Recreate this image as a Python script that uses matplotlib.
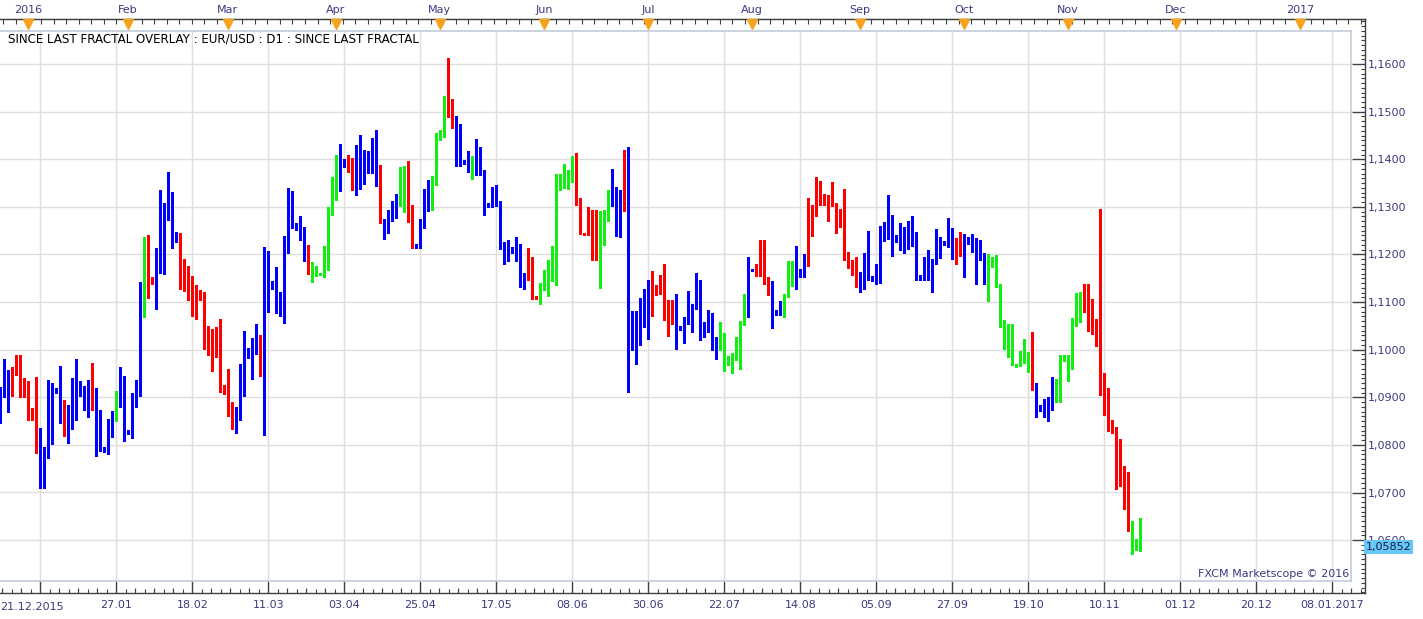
import numpy as np
import matplotlib
matplotlib.use('Agg')
import matplotlib.pyplot as plt

plt.rcParams['font.family'] = ['DejaVu Sans']

# EUR/USD D1, one bar per trading day (Sun-Fri), 22.12.2015 .. 18.11.2016
opens = [
    1.0849, 1.0912, 1.0955, 1.0907, 1.0949, 1.0961, 1.0916, 1.0929, 1.0861, 1.0872,
    1.0826, 1.0746, 1.0776, 1.0928, 1.0916, 1.0913, 1.0859, 1.0855, 1.0876, 1.0859,
    1.0903, 1.0919, 1.0887, 1.0905, 1.0881, 1.0871, 1.0791, 1.0788, 1.0846, 1.0866,
    1.0890, 1.0938, 1.0825, 1.0827, 1.0884, 1.0916, 1.1100, 1.1205, 1.1150, 1.1140,
    1.1188, 1.1291, 1.1285, 1.1320, 1.1247, 1.1232, 1.1150, 1.1140, 1.1127, 1.1103,
    1.1125, 1.1108, 1.1026, 1.1016, 1.1008, 1.1016, 1.0923, 1.0909, 1.0871, 1.0863,
    1.0865, 1.0954, 1.1001, 1.0985, 1.1012, 1.1007, 1.0990, 1.1175, 1.1144, 1.1135,
    1.1094, 1.1107, 1.1220, 1.1316, 1.1253, 1.1255, 1.1238, 1.1215, 1.1177, 1.1170,
    1.1157, 1.1157, 1.1190, 1.1284, 1.1334, 1.1374, 1.1388, 1.1398, 1.1385, 1.1377,
    1.1396, 1.1374, 1.1390, 1.1413, 1.1402, 1.1382, 1.1272, 1.1262, 1.1272, 1.1299,
    1.1308, 1.1356, 1.1293, 1.1285, 1.1214, 1.1214, 1.1262, 1.1293, 1.1317, 1.1346,
    1.1442, 1.1455, 1.1528, 1.1495, 1.1484, 1.1402, 1.1398, 1.1392, 1.1381, 1.1367,
    1.1425, 1.1373, 1.1300, 1.1307, 1.1318, 1.1311, 1.1213, 1.1199, 1.1215, 1.1203,
    1.1217, 1.1135, 1.1150, 1.1192, 1.1107, 1.1108, 1.1135, 1.1127, 1.1186, 1.1146,
    1.1361, 1.1348, 1.1349, 1.1353, 1.1388, 1.1313, 1.1243, 1.1243, 1.1289, 1.1201,
    1.1259, 1.1220, 1.1271, 1.1332, 1.1312, 1.1238, 1.1292, 1.1384, 1.1081, 1.1008,
    1.1021, 1.1061, 1.1121, 1.1105, 1.1135, 1.1121, 1.1153, 1.1073, 1.1100, 1.1060,
    1.1045, 1.1044, 1.1054, 1.1059, 1.1086, 1.1115, 1.1027, 1.1046, 1.1075, 1.1017,
    1.1010, 1.1024, 1.0972, 1.0968, 1.0991, 1.0983, 1.1054, 1.1070, 1.1166, 1.1169,
    1.1157, 1.1220, 1.1148, 1.1125, 1.1082, 1.1073, 1.1083, 1.1112, 1.1174, 1.1133,
    1.1154, 1.1166, 1.1178, 1.1275, 1.1281, 1.1352, 1.1304, 1.1318, 1.1302, 1.1304,
    1.1259, 1.1278, 1.1192, 1.1173, 1.1186, 1.1140, 1.1153, 1.1194, 1.1148, 1.1154,
    1.1144, 1.1252, 1.1237, 1.1255, 1.1227, 1.1234, 1.1231, 1.1215, 1.1247, 1.1240,
    1.1147, 1.1148, 1.1171, 1.1147, 1.1182, 1.1206, 1.1221, 1.1223, 1.1251, 1.1206,
    1.1214, 1.1218, 1.1232, 1.1226, 1.1207, 1.1199, 1.1201, 1.1145, 1.1194, 1.1177,
    1.1135, 1.1051, 1.1002, 1.1054, 1.0970, 1.0966, 1.0996, 1.0978, 1.0972, 1.0928,
    1.0880, 1.0881, 1.0878, 1.0884, 1.0907, 1.0890, 1.0978, 1.0988, 1.0977, 1.1052,
    1.1094, 1.1100, 1.1138, 1.1056, 1.1039, 1.1022, 1.0907, 1.0888, 1.0852, 1.0829,
    1.0734, 1.0718, 1.0688, 1.0623, 1.0581, 1.0625,
]

highs = [
    1.0922, 1.0980, 1.0957, 1.0963, 1.0989, 1.0989, 1.0940, 1.0935, 1.0877, 1.0942,
    1.0835, 1.0796, 1.0936, 1.0930, 1.0919, 1.0965, 1.0895, 1.0884, 1.0940, 1.0980,
    1.0935, 1.0923, 1.0937, 1.0972, 1.0919, 1.0873, 1.0796, 1.0855, 1.0872, 1.0913,
    1.0963, 1.0945, 1.0831, 1.0909, 1.0937, 1.1142, 1.1236, 1.1240, 1.1152, 1.1213,
    1.1335, 1.1308, 1.1373, 1.1331, 1.1248, 1.1246, 1.1190, 1.1175, 1.1154, 1.1135,
    1.1126, 1.1121, 1.1049, 1.1043, 1.1047, 1.1064, 1.0925, 1.0959, 1.0891, 1.0879,
    1.0970, 1.1039, 1.1003, 1.1024, 1.1054, 1.1031, 1.1215, 1.1207, 1.1145, 1.1174,
    1.1122, 1.1238, 1.1339, 1.1333, 1.1267, 1.1280, 1.1257, 1.1220, 1.1184, 1.1175,
    1.1161, 1.1217, 1.1300, 1.1363, 1.1409, 1.1433, 1.1400, 1.1409, 1.1402, 1.1430,
    1.1450, 1.1419, 1.1418, 1.1444, 1.1461, 1.1387, 1.1274, 1.1293, 1.1313, 1.1328,
    1.1384, 1.1385, 1.1396, 1.1305, 1.1222, 1.1274, 1.1337, 1.1357, 1.1365, 1.1455,
    1.1462, 1.1532, 1.1613, 1.1526, 1.1490, 1.1474, 1.1399, 1.1417, 1.1406, 1.1442,
    1.1426, 1.1377, 1.1309, 1.1342, 1.1345, 1.1312, 1.1227, 1.1231, 1.1216, 1.1237,
    1.1223, 1.1162, 1.1213, 1.1195, 1.1112, 1.1141, 1.1168, 1.1189, 1.1217, 1.1370,
    1.1370, 1.1390, 1.1377, 1.1406, 1.1413, 1.1318, 1.1246, 1.1300, 1.1293, 1.1293,
    1.1292, 1.1293, 1.1336, 1.1379, 1.1342, 1.1335, 1.1419, 1.1426, 1.1082, 1.1081,
    1.1109, 1.1128, 1.1147, 1.1165, 1.1136, 1.1157, 1.1181, 1.1104, 1.1104, 1.1117,
    1.1049, 1.1069, 1.1123, 1.1097, 1.1161, 1.1146, 1.1058, 1.1083, 1.1077, 1.1027,
    1.1058, 1.1035, 1.0986, 1.0994, 1.1027, 1.1060, 1.1117, 1.1195, 1.1170, 1.1181,
    1.1231, 1.1230, 1.1153, 1.1145, 1.1084, 1.1103, 1.1118, 1.1187, 1.1187, 1.1217,
    1.1170, 1.1201, 1.1319, 1.1303, 1.1362, 1.1354, 1.1328, 1.1325, 1.1352, 1.1308,
    1.1295, 1.1337, 1.1205, 1.1189, 1.1195, 1.1163, 1.1203, 1.1249, 1.1154, 1.1180,
    1.1260, 1.1268, 1.1325, 1.1282, 1.1240, 1.1266, 1.1257, 1.1270, 1.1280, 1.1248,
    1.1157, 1.1194, 1.1209, 1.1191, 1.1253, 1.1236, 1.1229, 1.1276, 1.1255, 1.1234,
    1.1247, 1.1244, 1.1236, 1.1244, 1.1234, 1.1230, 1.1203, 1.1202, 1.1195, 1.1198,
    1.1137, 1.1063, 1.1054, 1.1055, 1.0971, 1.0997, 1.1022, 1.0995, 1.1037, 1.0929,
    1.0883, 1.0896, 1.0900, 1.0942, 1.0938, 1.0989, 1.0988, 1.0989, 1.1067, 1.1119,
    1.1122, 1.1138, 1.1139, 1.1107, 1.1065, 1.1295, 1.0951, 1.0919, 1.0853, 1.0837,
    1.0813, 1.0756, 1.0743, 1.0640, 1.0602, 1.0646,
]

lows = [
    1.0845, 1.0901, 1.0870, 1.0902, 1.0947, 1.0900, 1.0900, 1.0852, 1.0852, 1.0782,
    1.0710, 1.0710, 1.0772, 1.0802, 1.0909, 1.0846, 1.0819, 1.0804, 1.0834, 1.0852,
    1.0902, 1.0874, 1.0859, 1.0874, 1.0777, 1.0787, 1.0786, 1.0781, 1.0817, 1.0851,
    1.0880, 1.0808, 1.0823, 1.0815, 1.0880, 1.0902, 1.1069, 1.1109, 1.1139, 1.1085,
    1.1162, 1.1159, 1.1272, 1.1214, 1.1226, 1.1128, 1.1124, 1.1104, 1.1071, 1.1065,
    1.1105, 1.1001, 1.0989, 1.0956, 1.0985, 1.0912, 1.0907, 1.0860, 1.0833, 1.0825,
    1.0852, 1.0902, 1.0982, 1.0938, 1.0992, 1.0945, 1.0820, 1.1079, 1.1128, 1.1077,
    1.1070, 1.1056, 1.1203, 1.1255, 1.1252, 1.1231, 1.1187, 1.1160, 1.1142, 1.1154,
    1.1156, 1.1153, 1.1167, 1.1283, 1.1314, 1.1334, 1.1384, 1.1374, 1.1335, 1.1325,
    1.1337, 1.1348, 1.1372, 1.1371, 1.1344, 1.1266, 1.1232, 1.1245, 1.1271, 1.1276,
    1.1301, 1.1289, 1.1269, 1.1214, 1.1213, 1.1213, 1.1255, 1.1292, 1.1294, 1.1345,
    1.1441, 1.1446, 1.1489, 1.1465, 1.1385, 1.1385, 1.1390, 1.1373, 1.1359, 1.1366,
    1.1366, 1.1283, 1.1299, 1.1300, 1.1301, 1.1211, 1.1180, 1.1186, 1.1203, 1.1187,
    1.1131, 1.1128, 1.1147, 1.1106, 1.1106, 1.1096, 1.1125, 1.1113, 1.1145, 1.1135,
    1.1336, 1.1339, 1.1337, 1.1352, 1.1305, 1.1243, 1.1242, 1.1241, 1.1188, 1.1189,
    1.1130, 1.1219, 1.1270, 1.1302, 1.1238, 1.1236, 1.1291, 1.0912, 1.0999, 1.0970,
    1.1010, 1.1048, 1.1022, 1.1071, 1.1115, 1.1116, 1.1062, 1.1029, 1.1053, 1.1001,
    1.1042, 1.1015, 1.1053, 1.1038, 1.1085, 1.1021, 1.1026, 1.1037, 1.1000, 1.0980,
    1.0999, 1.0956, 1.0967, 1.0951, 1.0978, 1.0960, 1.1052, 1.1069, 1.1165, 1.1155,
    1.1155, 1.1139, 1.1114, 1.1046, 1.1072, 1.1072, 1.1068, 1.1111, 1.1133, 1.1128,
    1.1153, 1.1153, 1.1175, 1.1238, 1.1280, 1.1304, 1.1303, 1.1270, 1.1301, 1.1245,
    1.1258, 1.1189, 1.1171, 1.1157, 1.1132, 1.1122, 1.1128, 1.1147, 1.1145, 1.1138,
    1.1141, 1.1228, 1.1233, 1.1196, 1.1226, 1.1209, 1.1204, 1.1211, 1.1218, 1.1146,
    1.1146, 1.1147, 1.1147, 1.1122, 1.1181, 1.1193, 1.1220, 1.1216, 1.1191, 1.1180,
    1.1197, 1.1153, 1.1223, 1.1205, 1.1138, 1.1188, 1.1138, 1.1103, 1.1173, 1.1131,
    1.1048, 1.1001, 1.0985, 1.0968, 1.0964, 1.0965, 1.0972, 1.0954, 1.0915, 1.0859,
    1.0872, 1.0859, 1.0851, 1.0874, 1.0890, 1.0890, 1.0977, 1.0934, 1.0960, 1.1050,
    1.1059, 1.1080, 1.1040, 1.1034, 1.1008, 1.0904, 1.0863, 1.0830, 1.0825, 1.0708,
    1.0713, 1.0666, 1.0619, 1.0570, 1.0579, 1.0578,
]

closes = [
    1.0916, 1.0955, 1.0908, 1.0951, 1.0961, 1.0916, 1.0929, 1.0861, 1.0872, 1.0825,
    1.0746, 1.0779, 1.0928, 1.0916, 1.0912, 1.0857, 1.0855, 1.0874, 1.0859, 1.0905,
    1.0919, 1.0887, 1.0905, 1.0880, 1.0870, 1.0789, 1.0788, 1.0848, 1.0867, 1.0891,
    1.0938, 1.0825, 1.0828, 1.0886, 1.0917, 1.1102, 1.1205, 1.1149, 1.1140, 1.1190,
    1.1291, 1.1285, 1.1320, 1.1245, 1.1231, 1.1149, 1.1139, 1.1125, 1.1103, 1.1125,
    1.1108, 1.1025, 1.1014, 1.1008, 1.1016, 1.0921, 1.0908, 1.0870, 1.0863, 1.0867,
    1.0955, 1.1001, 1.0984, 1.1012, 1.1006, 1.0990, 1.1175, 1.1142, 1.1133, 1.1094,
    1.1108, 1.1222, 1.1315, 1.1256, 1.1266, 1.1237, 1.1214, 1.1175, 1.1170, 1.1157,
    1.1159, 1.1192, 1.1285, 1.1335, 1.1375, 1.1390, 1.1398, 1.1384, 1.1377, 1.1396,
    1.1374, 1.1392, 1.1413, 1.1401, 1.1380, 1.1270, 1.1262, 1.1274, 1.1300, 1.1310,
    1.1356, 1.1291, 1.1282, 1.1215, 1.1218, 1.1264, 1.1295, 1.1318, 1.1347, 1.1444,
    1.1457, 1.1528, 1.1493, 1.1482, 1.1400, 1.1397, 1.1390, 1.1380, 1.1367, 1.1425,
    1.1367, 1.1300, 1.1308, 1.1318, 1.1308, 1.1212, 1.1199, 1.1216, 1.1203, 1.1217,
    1.1135, 1.1152, 1.1192, 1.1107, 1.1111, 1.1135, 1.1128, 1.1186, 1.1146, 1.1361,
    1.1347, 1.1352, 1.1354, 1.1387, 1.1311, 1.1243, 1.1245, 1.1289, 1.1201, 1.1259,
    1.1220, 1.1272, 1.1332, 1.1311, 1.1239, 1.1293, 1.1384, 1.1080, 1.1008, 1.1022,
    1.1062, 1.1121, 1.1105, 1.1135, 1.1121, 1.1153, 1.1073, 1.1100, 1.1058, 1.1046,
    1.1048, 1.1056, 1.1060, 1.1087, 1.1115, 1.1026, 1.1047, 1.1075, 1.1017, 1.1010,
    1.1024, 1.0971, 1.0968, 1.0991, 1.0983, 1.1056, 1.1072, 1.1167, 1.1169, 1.1157,
    1.1220, 1.1142, 1.1124, 1.1079, 1.1074, 1.1085, 1.1115, 1.1174, 1.1134, 1.1157,
    1.1168, 1.1180, 1.1276, 1.1283, 1.1352, 1.1305, 1.1318, 1.1304, 1.1318, 1.1260,
    1.1278, 1.1191, 1.1173, 1.1186, 1.1140, 1.1154, 1.1194, 1.1148, 1.1154, 1.1145,
    1.1252, 1.1236, 1.1255, 1.1227, 1.1234, 1.1230, 1.1216, 1.1247, 1.1239, 1.1147,
    1.1150, 1.1171, 1.1147, 1.1184, 1.1207, 1.1222, 1.1226, 1.1251, 1.1206, 1.1215,
    1.1220, 1.1232, 1.1224, 1.1206, 1.1200, 1.1203, 1.1145, 1.1194, 1.1175, 1.1134,
    1.1050, 1.1002, 1.1054, 1.0968, 1.0966, 1.0996, 1.0977, 1.0970, 1.0926, 1.0880,
    1.0882, 1.0878, 1.0885, 1.0907, 1.0890, 1.0979, 1.0988, 1.0977, 1.1054, 1.1096,
    1.1101, 1.1138, 1.1055, 1.1038, 1.1020, 1.0905, 1.0886, 1.0851, 1.0827, 1.0733,
    1.0715, 1.0687, 1.0621, 1.0581, 1.0592, 1.05852,
]

# "since last fractal" state of each bar: b = blue, r = red, g = green
states = ("bbb rrrrrrr bbbbbb r bbbbbb r bbbbb g bbbbbb g rr bbbbbb "
          "rrrrrrrrrrrrrr bbbbbb r bbbbbbbbbbb r ggggggg bb rr bbbbbb r bbbb "
          "gg rr bbbb gggg rr bbbb g bbbbbbbbbbbbb rrr ggggggggg rrrrrr ggg bbb "
          "r bbbbbb rrrrrr bbbbbbbbbbb ggggggg bb rrrr bbb ggg bbb rrrrrrrrrrrrr "
          "bbbbbbbbbbbbbbbbbbbbbbbb rr bbbbbb ggggggggggg r bbbbb ggggggg "
          "rrrrrrrrrrrr ggg").replace(" ", "")

last_price = 1.05852
price_ticks = [1.06, 1.07, 1.08, 1.09, 1.10, 1.11, 1.12, 1.13, 1.14, 1.15, 1.16]

# bottom date axis: a gridline every 19 bars starting at bar 10
grid_bars = [10 + 19 * k for k in range(18)]
date_labels = ['', '27.01', '18.02', '11.03', '03.04', '25.04', '17.05', '08.06',
               '30.06', '22.07', '14.08', '05.09', '27.09', '19.10', '10.11',
               '01.12', '20.12', '08.01.2017']
first_label = '21.12.2015'

# top month axis (bar position of each month marker)
month_bars = [6.9, 31.9, 56.9, 83.9, 109.9, 135.9, 161.9, 187.9, 214.9,
              240.9, 266.9, 293.9, 324.9]
month_labels = ['2016', 'Feb', 'Mar', 'Apr', 'May', 'Jun', 'Jul', 'Aug',
                'Sep', 'Oct', 'Nov', 'Dec', '2017']

assert len(opens) == len(highs) == len(lows) == len(closes) == len(states)

STATE_COLORS = {'b': '#0000ff', 'r': '#ff0000', 'g': '#11ee11'}
LABEL = '#3a3a80'
AXIS = '#404040'
FRAME = '#c3ccdb'
GRID = '#dedede'

W, H = 1423, 619
PX_BAR = 4.0      # pixels per bar
X0 = 0.3          # pixel of bar 0
fig = plt.figure(figsize=(W / 100, H / 100), dpi=100)
fig.patch.set_facecolor('white')


def rect(x0, y0, x1, y1):
    return [x0 / W, 1 - y1 / H, (x1 - x0) / W, (y1 - y0) / H]


def bar_at(px):
    return (px - X0) / PX_BAR


def price_at(py):
    return 1.16 - (py - 64.1) / 4760.0


OUT_X = (bar_at(0), bar_at(1365))
OUT_Y = (price_at(593), price_at(19))
IN_X = (bar_at(0), bar_at(1351))
IN_Y = (price_at(581), price_at(31))

ax_out = fig.add_axes(rect(0, 19, 1365, 593))
ax = fig.add_axes(rect(0, 31, 1351, 581))

# ---- outer frame with the scales ----
ax_out.set_facecolor('white')
ax_out.spines['left'].set_visible(False)
for s in ('top', 'right', 'bottom'):
    ax_out.spines[s].set_color(AXIS)
    ax_out.spines[s].set_linewidth(1.0)

minor_x = [v for v in np.arange(10 - 19, 345, 19 / 8) if OUT_X[0] <= v <= OUT_X[1]]
tall_x = [v for v in np.arange(10 - 19, 345, 19 / 4)
          if OUT_X[0] <= v <= OUT_X[1] and (v - 10) % 19 != 0]
ax_out.set_xticks(grid_bars, date_labels)
ax_out.set_xticks(minor_x, minor=True)
ax_out.tick_params(axis='x', which='both', top=False, labeltop=False)
ax_out.tick_params(axis='x', which='major', direction='in', length=8.6, width=1,
                   color=AXIS, labelsize=8, labelcolor=LABEL, pad=5)
ax_out.tick_params(axis='x', which='minor', direction='in', length=3, width=0.8,
                   color=AXIS)
ax_out.vlines(tall_x, 0, 5 / 574, colors=AXIS, linewidth=0.8,
              transform=ax_out.get_xaxis_transform(), clip_on=False)
fig.text(0.5 / W, 1 - 607 / H, first_label, ha='left', va='center',
         fontsize=8, color=LABEL)

minor_y = [v for v in np.arange(1.049, 1.1695, 0.001) if OUT_Y[0] <= v <= OUT_Y[1]]
ax_out.yaxis.tick_right()
ax_out.set_yticks(price_ticks, [f'{v:.4f}'.replace('.', ',') for v in price_ticks])
ax_out.set_yticks(minor_y, minor=True)
ax_out.tick_params(axis='y', which='major', direction='in', length=9.4, width=1,
                   color=AXIS, labelsize=8, labelcolor=LABEL, pad=2)
ax_out.tick_params(axis='y', which='minor', direction='in', length=3.2, width=0.8,
                   color=AXIS)

top = ax_out.secondary_xaxis('top')
top_minor = [v for v in np.arange(0.75, 342, 3.1425) if OUT_X[0] <= v <= OUT_X[1]]
top.set_xticks(month_bars, month_labels)
top.set_xticks(top_minor, minor=True)
top.tick_params(which='major', length=0, pad=3, labelsize=8, labelcolor=LABEL)
top.tick_params(which='minor', direction='in', length=3.6, width=0.8, color=AXIS)
for s in top.spines.values():
    s.set_color(AXIS)

ax_out.plot(month_bars, [1 - 4.5 / 574] * len(month_bars), ls='none', marker='v',
            ms=6.6, color='#f8a11c', mec='#f8a11c',
            transform=ax_out.get_xaxis_transform(), clip_on=False, zorder=6)

ax_out.annotate(f'{last_price:.5f}'.replace('.', ','), xy=(1.0, last_price),
                xycoords=ax_out.get_yaxis_transform(), xytext=(0.5, 0),
                textcoords='offset points', ha='left', va='center', fontsize=8,
                color='#1a1a40', annotation_clip=False, zorder=10,
                bbox=dict(boxstyle='square,pad=0.15', fc='#66c8f8', ec='none'))

# limits last, set_xticks may widen them
ax_out.set_xlim(*OUT_X)
ax_out.set_ylim(*OUT_Y)

# ---- chart area ----
ax.set_facecolor('white')
ax.spines['left'].set_visible(False)
for s in ('top', 'right', 'bottom'):
    ax.spines[s].set_color(FRAME)
    ax.spines[s].set_linewidth(1.2)
ax.set_xticks(grid_bars)
ax.set_yticks(price_ticks)
ax.tick_params(length=0, labelbottom=False, labelleft=False)
ax.grid(True, color=GRID, linewidth=1.0)
ax.set_axisbelow(True)

o = np.array(opens)
h = np.array(highs)
l = np.array(lows)
c = np.array(closes)
x = np.arange(len(o))
cols = [STATE_COLORS[s] for s in states]
lo = np.minimum(o, c)
hi = np.maximum(o, c)
ax.vlines(x, l, h, colors=cols, linewidth=0.75, antialiased=False, zorder=3)
ax.bar(x, np.maximum(hi - lo, 0.00022), bottom=lo, width=0.62, color=cols,
       linewidth=0, antialiased=False, zorder=4)

ax.text(8 / 1351, 1 - 8.5 / 550,
        'SINCE LAST FRACTAL OVERLAY : EUR/USD : D1 : SINCE LAST FRACTAL',
        transform=ax.transAxes, ha='left', va='center', fontsize=8.6, color='#000000')
ax.text(1349 / 1351, 7 / 550, 'FXCM Marketscope \u00a9 2016', transform=ax.transAxes,
        ha='right', va='center', fontsize=8, color=LABEL)

ax.set_xlim(*IN_X)
ax.set_ylim(*IN_Y)

fig.savefig('out.png', dpi=100, facecolor='white')
